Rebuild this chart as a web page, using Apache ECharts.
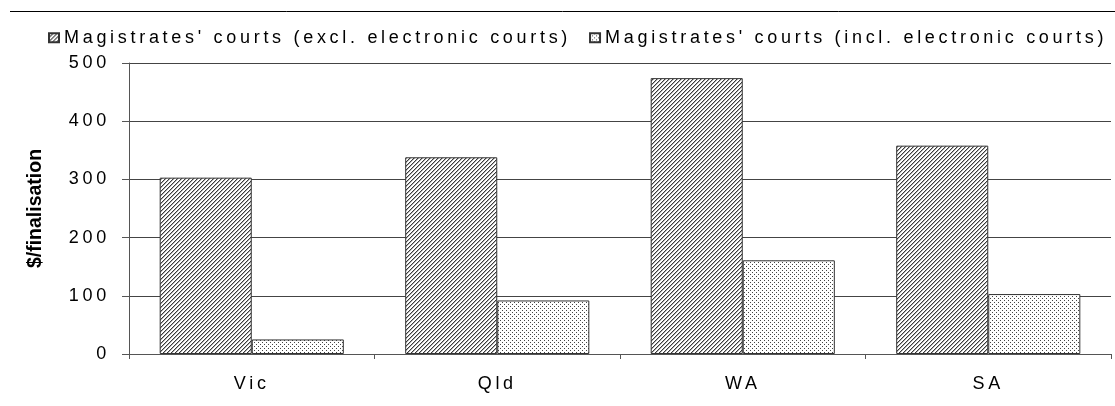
<!DOCTYPE html>
<html>
<head>
<meta charset="utf-8">
<style>
html,body{margin:0;padding:0;background:#fff;}
#chart{width:1115px;height:406px;}
</style>
<script src="https://cdn.jsdelivr.net/npm/echarts@6/dist/echarts.min.js"></script>
</head>
<body>
<div id="chart"></div>
<script>
// ---- data ----
const categories = ['Vic', 'Qld', 'WA', 'SA'];
const seriesNames = ["Magistrates' courts (excl. electronic courts)", "Magistrates' courts (incl. electronic courts)"];
const exclValues = [303, 338, 474, 358];
const inclValues = [25, 92, 161, 103];
const yTicks = [0, 100, 200, 300, 400, 500];
const yAxisTitle = '$/finalisation';

// ---- wide letter spacing for regular text (the original uses spaced lettering) ----
(function () {
  const proto = CanvasRenderingContext2D.prototype;
  const desc = Object.getOwnPropertyDescriptor(proto, 'font');
  if (desc && desc.set && ('letterSpacing' in proto)) {
    Object.defineProperty(proto, 'font', {
      configurable: true,
      get: function () { return desc.get.call(this); },
      set: function (v) {
        desc.set.call(this, v);
        this.letterSpacing = /bold/.test(v) ? '0px' : '3.7px';
      }
    });
  }
})();

// ---- fill patterns ----
function makeTile(draw, w, h) {
  const c = document.createElement('canvas');
  c.width = w; c.height = h;
  const ctx = c.getContext('2d');
  ctx.fillStyle = '#fff';
  ctx.fillRect(0, 0, w, h);
  draw(ctx);
  return c;
}
const hatchTile = makeTile(function (ctx) {
  for (let i = 0; i < 4; i++) {
    ctx.fillStyle = '#3a3a3a';
    ctx.fillRect(i, 3 - i, 1, 1);
    ctx.fillStyle = '#b0b0b0';
    ctx.fillRect((i + 1) % 4, 3 - i, 1, 1);
  }
}, 4, 4);
const dotTile = makeTile(function (ctx) {
  ctx.fillStyle = '#444';
  ctx.fillRect(0, 0, 1, 1);
  ctx.fillRect(2, 2, 1, 1);
}, 4, 4);
const hatchFill = { image: hatchTile, repeat: 'repeat' };
const dotFill = { image: dotTile, repeat: 'repeat' };

const chart = echarts.init(document.getElementById('chart'), null, { renderer: 'canvas' });
const textFont = { fontFamily: 'Liberation Sans, Arial, sans-serif', fontSize: 18, color: '#000' };

chart.setOption({
  animation: false,
  backgroundColor: '#fff',
  graphic: [{
    type: 'line',
    shape: { x1: 10, y1: 11.5, x2: 1115, y2: 11.5 },
    style: { stroke: '#000', lineWidth: 1 }
  }],
  legend: {
    left: 48,
    top: 27,
    width: 1300,
    padding: 0,
    itemWidth: 10,
    itemHeight: 9,
    itemGap: 18,
    icon: 'rect',
    textStyle: Object.assign({}, textFont),
    data: seriesNames
  },
  grid: { left: 129, right: 4, top: 63, bottom: 52, containLabel: false },
  xAxis: {
    type: 'category',
    data: categories,
    axisLine: { lineStyle: { color: '#555', width: 1 } },
    axisTick: { show: true, length: 5, inside: false, lineStyle: { color: '#555' } },
    axisLabel: Object.assign({ margin: 19 }, textFont),
    splitLine: { show: false }
  },
  yAxis: {
    type: 'value',
    min: yTicks[0],
    max: yTicks[yTicks.length - 1],
    interval: 100,
    name: yAxisTitle,
    nameLocation: 'middle',
    nameGap: 83,
    nameRotate: 90,
    nameTextStyle: { fontFamily: 'Liberation Sans, Arial, sans-serif', fontWeight: 'bold', fontSize: 19.5, color: '#000' },
    axisLine: { show: true, lineStyle: { color: '#555', width: 1 } },
    axisTick: { show: true, length: 7, lineStyle: { color: '#555' } },
    axisLabel: Object.assign({ margin: 19 }, textFont),
    splitLine: { show: true, lineStyle: { color: '#444', width: 1 } }
  },
  series: [
    {
      name: seriesNames[0],
      type: 'bar',
      data: exclValues,
      barGap: '0%',
      barCategoryGap: '25%',
      itemStyle: { color: hatchFill, borderColor: '#333', borderWidth: 1 }
    },
    {
      name: seriesNames[1],
      type: 'bar',
      data: inclValues,
      barGap: '0%',
      barCategoryGap: '25%',
      itemStyle: { color: dotFill, borderColor: '#333', borderWidth: 1 }
    }
  ]
});
</script>
</body>
</html>
